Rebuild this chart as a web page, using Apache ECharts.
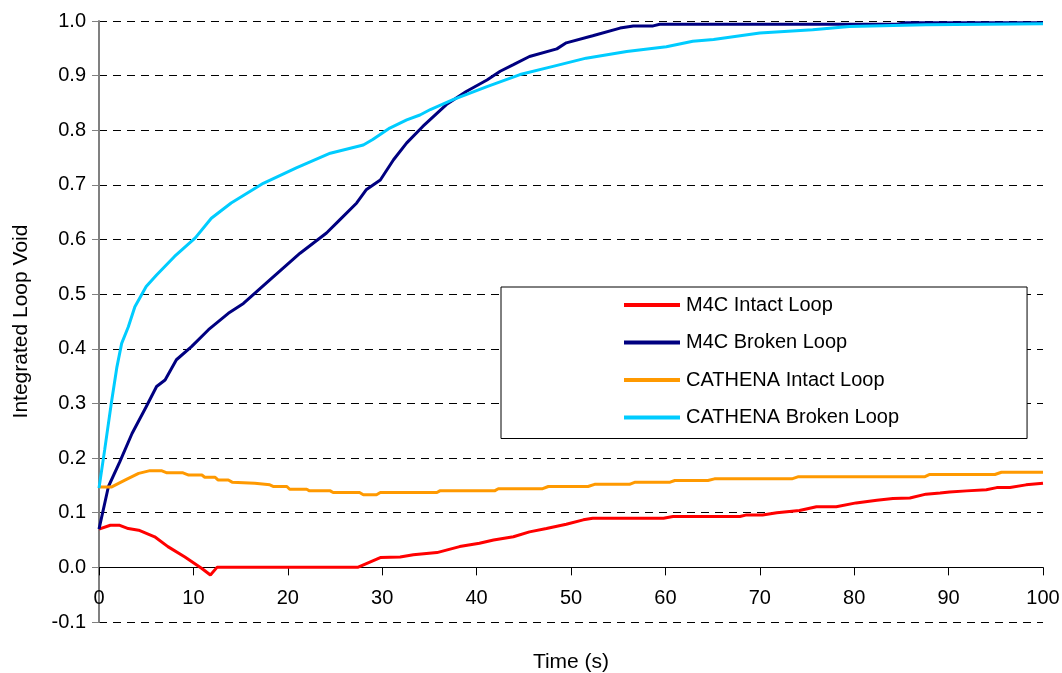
<!DOCTYPE html>
<html>
<head>
<meta charset="utf-8">
<script src="https://cdn.jsdelivr.net/npm/echarts@6/dist/echarts.min.js"></script>
<style>
  html, body { margin: 0; padding: 0; background: #fff; }
  #chart { width: 1062px; height: 673px; }
</style>
</head>
<body>
<div id="chart"></div>
<script>
// Integrated loop void vs time, pairs of [time (s), void fraction]
const seriesNames = ['M4C Intact Loop', 'M4C Broken Loop', 'CATHENA Intact Loop', 'CATHENA Broken Loop'];
const seriesColors = ['#FF0000', '#000080', '#FF9900', '#00CCFF'];

const m4cIntact = [
  [0, 0.070], [1.2, 0.077], [2.2, 0.077], [3.1, 0.071], [4.2, 0.068], [5.9, 0.056],
  [7.3, 0.038], [9.1, 0.019], [10.9, -0.002], [11.8, -0.014], [12.5, 0.0], [27.4, 0.0],
  [29.8, 0.018], [31.9, 0.019], [33.3, 0.023], [35.8, 0.027], [38.2, 0.038], [40.3, 0.044],
  [41.8, 0.050], [43.9, 0.056], [45.6, 0.065], [47.4, 0.071], [49.5, 0.079], [51.3, 0.087],
  [52.3, 0.090], [59.8, 0.090], [60.8, 0.093], [67.9, 0.093], [68.6, 0.096], [70.3, 0.096],
  [71.8, 0.100], [74.2, 0.104], [76.0, 0.111], [78.1, 0.111], [80.2, 0.118], [82.4, 0.123],
  [84.1, 0.126], [85.9, 0.127], [87.6, 0.134], [89.1, 0.136], [90.1, 0.138], [91.9, 0.140],
  [94.0, 0.142], [95.1, 0.146], [96.5, 0.146], [98.2, 0.151], [100, 0.154]
];

const m4cBroken = [
  [0, 0.070], [1.0, 0.148], [2.2, 0.193], [3.5, 0.245], [5.0, 0.294], [6.1, 0.331],
  [7.0, 0.343], [8.2, 0.380], [9.8, 0.404], [11.6, 0.435], [13.7, 0.465], [15.3, 0.483],
  [18.1, 0.526], [21.3, 0.575], [24.1, 0.612], [25.5, 0.636], [27.3, 0.667], [28.3, 0.691],
  [29.8, 0.709], [31.2, 0.746], [32.6, 0.777], [34.3, 0.807], [36.8, 0.847], [38.9, 0.871],
  [41.1, 0.892], [42.5, 0.908], [43.9, 0.920], [45.6, 0.935], [48.5, 0.949], [49.5, 0.960],
  [52.3, 0.973], [55.2, 0.987], [56.6, 0.991], [58.7, 0.991], [59.4, 0.994], [84.5, 0.994],
  [85.5, 0.997], [100, 0.997]
];

const cathenaIntact = [
  [0, 0.147], [1.3, 0.147], [2.8, 0.160], [4.2, 0.172], [5.4, 0.177], [6.6, 0.177],
  [7.2, 0.173], [8.9, 0.173], [9.5, 0.169], [10.9, 0.169], [11.2, 0.165], [12.3, 0.165],
  [12.6, 0.160], [13.7, 0.160], [14.1, 0.156], [15.3, 0.155], [16.5, 0.154], [16.7, 0.151],
  [18.1, 0.151], [18.5, 0.148], [19.9, 0.148], [20.2, 0.143], [22.0, 0.143], [22.3, 0.140],
  [24.5, 0.140], [24.8, 0.137], [27.6, 0.137], [28.0, 0.133], [29.4, 0.133], [29.8, 0.137],
  [35.8, 0.137], [36.1, 0.140], [41.9, 0.140], [42.3, 0.144], [47.0, 0.144], [47.6, 0.148],
  [51.8, 0.148], [52.5, 0.152], [56.2, 0.152], [56.8, 0.156], [60.5, 0.156], [61.0, 0.159],
  [64.5, 0.159], [65.2, 0.162], [73.4, 0.162], [74.1, 0.166], [87.5, 0.166], [88.0, 0.170],
  [94.9, 0.170], [95.6, 0.174], [100, 0.174]
];

const cathenaBroken = [
  [0, 0.145], [0.6, 0.215], [1.3, 0.300], [1.9, 0.367], [2.4, 0.410], [3.1, 0.440],
  [3.8, 0.477], [5.0, 0.514], [6.1, 0.535], [8.0, 0.569], [10.2, 0.603], [11.9, 0.639],
  [14.0, 0.667], [17.4, 0.703], [20.9, 0.731], [24.5, 0.758], [28.0, 0.773], [29.0, 0.783],
  [30.8, 0.804], [32.6, 0.819], [34.0, 0.828], [35.1, 0.838], [37.5, 0.856], [41.1, 0.880],
  [44.6, 0.902], [48.1, 0.917], [51.6, 0.932], [55.9, 0.944], [60.1, 0.953], [62.9, 0.963],
  [65.1, 0.966], [70.0, 0.978], [75.6, 0.984], [79.5, 0.990], [87.6, 0.993], [100, 0.995]
];

const seriesData = [m4cIntact, m4cBroken, cathenaIntact, cathenaBroken];

const xTitle = 'Time (s)';
const yTitle = 'Integrated Loop Void';

const Y_MIN = -0.1, Y_MAX = 1.0;

const FONT = '"Liberation Sans", Arial, sans-serif';

const CHART_H = 673, GRID_TOP = 21, GRID_BOTTOM = 51;
const gridHeight = CHART_H - GRID_TOP - GRID_BOTTOM;
// shift the time axis up so it sits on the zero line of the void axis
const xAxisOffset = -gridHeight * (0 - Y_MIN) / (Y_MAX - Y_MIN);

const chart = echarts.init(document.getElementById('chart'), null, { renderer: 'canvas' });

chart.setOption({
  backgroundColor: '#ffffff',
  animation: false,
  textStyle: { fontFamily: FONT, color: '#000' },
  grid: { left: 99, right: 19, top: GRID_TOP, bottom: GRID_BOTTOM, containLabel: false, outerBoundsMode: 'none' },
  legend: {
    orient: 'vertical',
    left: 501,
    top: 287,
    padding: [8, 128, 11, 123],
    borderColor: '#000',
    borderWidth: 1,
    backgroundColor: '#fff',
    itemWidth: 56,
    itemHeight: 4,
    itemGap: 17.5,
    icon: 'rect',
    textStyle: { fontSize: 20, fontFamily: FONT, color: '#000', padding: [0, 0, 0, 1] },
    data: seriesNames
  },
  xAxis: {
    type: 'value',
    min: 0,
    max: 100,
    interval: 10,
    position: 'bottom',
    offset: xAxisOffset,
    name: xTitle,
    nameLocation: 'middle',
    nameGap: 84,
    nameTextStyle: { fontSize: 21, fontFamily: FONT, color: '#000' },
    axisLine: { onZero: false, lineStyle: { color: '#000', width: 1 } },
    axisTick: { show: true, length: 8, lineStyle: { color: '#000' } },
    axisLabel: { fontSize: 20, fontFamily: FONT, color: '#000', margin: 21 },
    splitLine: { show: false }
  },
  yAxis: {
    type: 'value',
    min: Y_MIN,
    max: Y_MAX,
    interval: 0.1,
    name: yTitle,
    nameLocation: 'middle',
    nameRotate: 90,
    nameGap: 67,
    nameTextStyle: { fontSize: 21, fontFamily: FONT, color: '#000' },
    axisLine: { show: true, onZero: false, lineStyle: { color: '#808080', width: 2 } },
    axisTick: { show: true, length: 7, lineStyle: { color: '#808080' } },
    axisLabel: {
      fontSize: 20, fontFamily: FONT, color: '#000', margin: 13,
      formatter: v => v.toFixed(1)
    },
    splitLine: { show: true, lineStyle: { color: '#000', type: [8, 6], width: 1 } }
  },
  series: seriesData.map((d, i) => ({
    name: seriesNames[i],
    type: 'line',
    data: d,
    symbol: 'none',
    showSymbol: false,
    smooth: false,
    color: seriesColors[i],
    lineStyle: { color: seriesColors[i], width: 3 },
    z: 2 + i
  }))
});
</script>
</body>
</html>
